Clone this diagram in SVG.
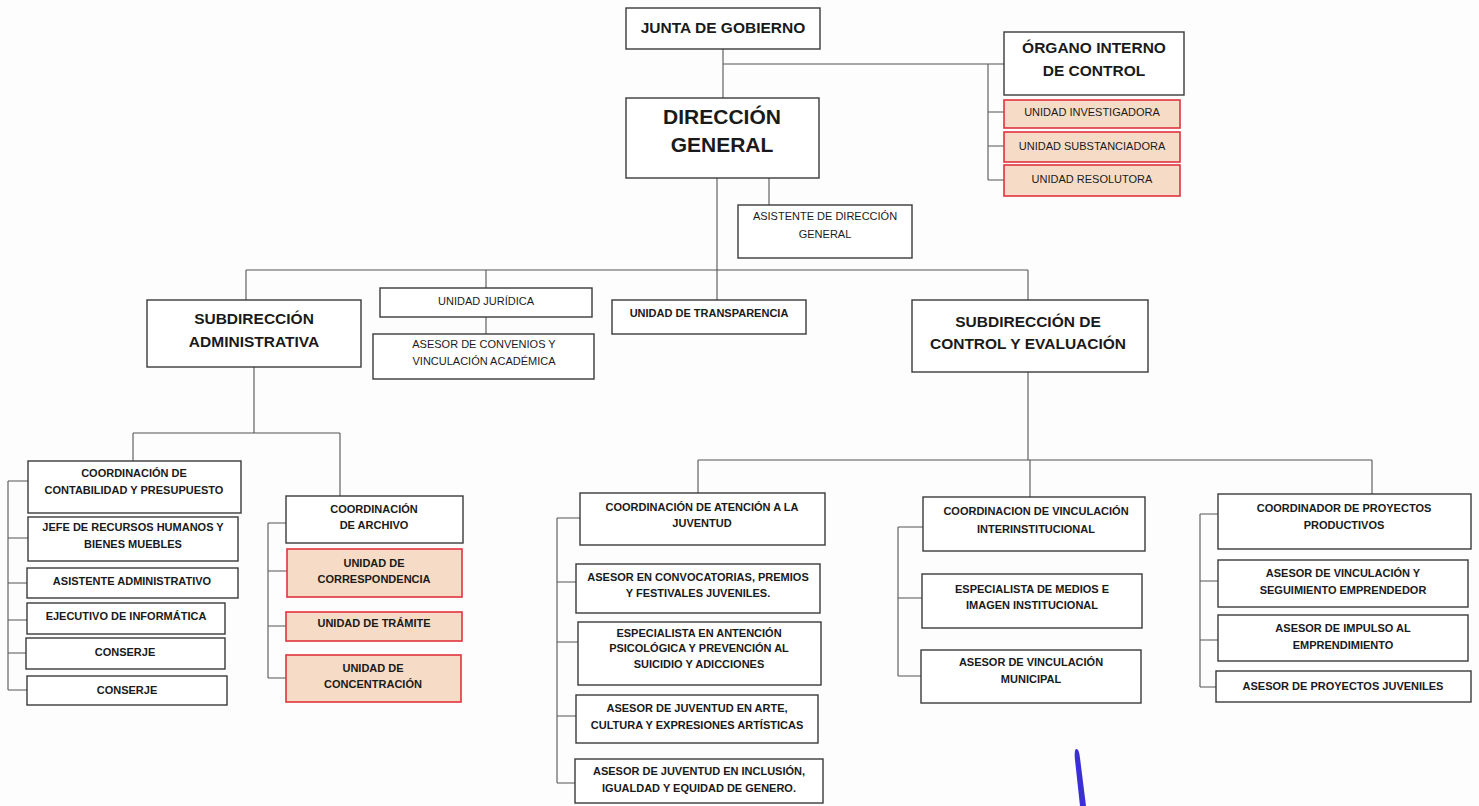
<svg xmlns="http://www.w3.org/2000/svg" width="1479" height="806" viewBox="0 0 1479 806">
<style>
.b{fill:#ffffff;stroke:#3a3a3a;stroke-width:1.4}
.p{fill:#f6dcc7;stroke:#e2323c;stroke-width:1.6}
.c{fill:none;stroke:#555;stroke-width:1.1}
text{font-family:"Liberation Sans Narrow","Liberation Sans",Arial,sans-serif;fill:#1a1a1a;text-anchor:middle;font-weight:bold}
.s11{font-size:11px}
.s12{font-size:12px}
.s15{font-size:15.5px}
.s21{font-size:21px}
.n{font-weight:normal}
</style>
<rect width="1479" height="806" fill="#fdfdfd"/>
<g id="connectors">
<path class="c" d="M723,49 V98 M723,64 H1004 M988,64 V180 M988,112 H1004 M988,146 H1004 M988,180 H1004"/>
<path class="c" d="M717,178 V300 M769,178 V205"/>
<path class="c" d="M246,270 H1028 M246,270 V300 M486,270 V288 M486,317 V334 M1028,270 V300"/>
<path class="c" d="M254,367 V433 M133,433 H340 M133,433 V461 M340,433 V496"/>
<path class="c" d="M8,481 V690 M8,481 H28 M8,538 H28 M8,583 H27 M8,620 H27 M8,653 H26 M8,690 H27"/>
<path class="c" d="M268,523 V678 M268,523 H286 M268,571 H287 M268,626 H286 M268,678 H286"/>
<path class="c" d="M1028,372 V460 M698,460 H1372 M698,460 V493 M1030,460 V497 M1372,460 V494"/>
<path class="c" d="M557,518 V783 M557,518 H580 M557,582 H576 M557,642 H578 M557,716 H576 M557,783 H575"/>
<path class="c" d="M898,527 V676 M898,527 H923 M898,598 H922 M898,676 H921"/>
<path class="c" d="M1200,514 V687 M1200,514 H1218 M1200,581 H1218 M1200,640 H1218 M1200,687 H1216"/>
</g>
<g id="junta"><rect class="b" x="626" y="8" width="194" height="41"/><text class="s15" x="723" y="33">JUNTA DE GOBIERNO</text></g>
<g id="organo"><rect class="b" x="1004" y="32" width="180" height="63"/><text class="s15" x="1094" y="53">ÓRGANO INTERNO</text><text class="s15" x="1094" y="76">DE CONTROL</text></g>
<g id="investigadora"><rect class="p" x="1004" y="100" width="176" height="28"/><text class="s11 n" x="1092" y="116">UNIDAD INVESTIGADORA</text></g>
<g id="substanciadora"><rect class="p" x="1004" y="132" width="176" height="30"/><text class="s11 n" x="1092" y="150">UNIDAD SUBSTANCIADORA</text></g>
<g id="resolutora"><rect class="p" x="1004" y="165" width="176" height="31"/><text class="s11 n" x="1092" y="183">UNIDAD RESOLUTORA</text></g>
<g id="direccion"><rect class="b" x="626" y="98" width="193" height="80"/><text class="s21" x="722" y="124">DIRECCIÓN</text><text class="s21" x="722" y="152">GENERAL</text></g>
<g id="asistente-dg"><rect class="b" x="738" y="205" width="174" height="53"/><text class="s11 n" x="825" y="220">ASISTENTE DE DIRECCIÓN</text><text class="s11 n" x="825" y="238">GENERAL</text></g>
<g id="sub-admin"><rect class="b" x="147" y="300" width="214" height="67"/><text class="s15" x="254" y="324">SUBDIRECCIÓN</text><text class="s15" x="254" y="347">ADMINISTRATIVA</text></g>
<g id="juridica"><rect class="b" x="380" y="288" width="212" height="29"/><text class="s11 n" x="486" y="305">UNIDAD JURÍDICA</text></g>
<g id="convenios"><rect class="b" x="373" y="334" width="221" height="45"/><text class="s11 n" x="484" y="348">ASESOR DE CONVENIOS Y</text><text class="s11 n" x="484" y="365">VINCULACIÓN ACADÉMICA</text></g>
<g id="transparencia"><rect class="b" x="612" y="300" width="194" height="34"/><text class="s11" x="709" y="317">UNIDAD DE TRANSPARENCIA</text></g>
<g id="sub-control"><rect class="b" x="912" y="300" width="236" height="72"/><text class="s15" x="1028" y="327">SUBDIRECCIÓN DE</text><text class="s15" x="1028" y="349">CONTROL Y EVALUACIÓN</text></g>
<g id="contabilidad"><rect class="b" x="28" y="461" width="213" height="52"/><text class="s11" x="134" y="477">COORDINACIÓN DE</text><text class="s11" x="134" y="494">CONTABILIDAD Y PRESUPUESTO</text></g>
<g id="rrhh"><rect class="b" x="28" y="517" width="210" height="44"/><text class="s11" x="133" y="531">JEFE DE RECURSOS HUMANOS Y</text><text class="s11" x="133" y="548">BIENES MUEBLES</text></g>
<g id="asistente-admin"><rect class="b" x="27" y="568" width="211" height="30"/><text class="s11" x="132" y="585">ASISTENTE ADMINISTRATIVO</text></g>
<g id="informatica"><rect class="b" x="27" y="603" width="198" height="31"/><text class="s11" x="126" y="620">EJECUTIVO DE INFORMÁTICA</text></g>
<g id="conserje1"><rect class="b" x="26" y="638" width="199" height="31"/><text class="s11" x="125" y="656">CONSERJE</text></g>
<g id="conserje2"><rect class="b" x="27" y="676" width="200" height="29"/><text class="s11" x="127" y="694">CONSERJE</text></g>
<g id="archivo"><rect class="b" x="286" y="496" width="177" height="47"/><text class="s11" x="374" y="513">COORDINACIÓN</text><text class="s11" x="374" y="529">DE ARCHIVO</text></g>
<g id="correspondencia"><rect class="p" x="287" y="549" width="175" height="48"/><text class="s11" x="374" y="567">UNIDAD DE</text><text class="s11" x="374" y="583">CORRESPONDENCIA</text></g>
<g id="tramite"><rect class="p" x="286" y="612" width="176" height="29"/><text class="s11" x="374" y="627">UNIDAD DE TRÁMITE</text></g>
<g id="concentracion"><rect class="p" x="286" y="655" width="175" height="47"/><text class="s11" x="373" y="672">UNIDAD DE</text><text class="s11" x="373" y="688">CONCENTRACIÓN</text></g>
<g id="atencion"><rect class="b" x="580" y="493" width="245" height="52"/><text class="s11" x="702" y="511">COORDINACIÓN DE ATENCIÓN A LA</text><text class="s11" x="702" y="527">JUVENTUD</text></g>
<g id="convocatorias"><rect class="b" x="576" y="564" width="244" height="49"/><text class="s11" x="698" y="581">ASESOR EN CONVOCATORIAS, PREMIOS</text><text class="s11" x="698" y="597">Y FESTIVALES JUVENILES.</text></g>
<g id="psicologica"><rect class="b" x="578" y="622" width="243" height="63"/><text class="s11" x="699" y="637">ESPECIALISTA EN ANTENCIÓN</text><text class="s11" x="699" y="652">PSICOLÓGICA Y PREVENCIÓN AL</text><text class="s11" x="699" y="668">SUICIDIO Y ADICCIONES</text></g>
<g id="arte"><rect class="b" x="576" y="695" width="242" height="48"/><text class="s11" x="697" y="712">ASESOR DE JUVENTUD EN ARTE,</text><text class="s11" x="697" y="729">CULTURA Y EXPRESIONES ARTÍSTICAS</text></g>
<g id="inclusion"><rect class="b" x="575" y="759" width="248" height="44"/><text class="s11" x="699" y="775">ASESOR DE JUVENTUD EN INCLUSIÓN,</text><text class="s11" x="699" y="792">IGUALDAD Y EQUIDAD DE GENERO.</text></g>
<g id="vinculacion"><rect class="b" x="923" y="497" width="222" height="54"/><text class="s11" x="1036" y="515">COORDINACION DE VINCULACIÓN</text><text class="s11" x="1036" y="533">INTERINSTITUCIONAL</text></g>
<g id="medios"><rect class="b" x="922" y="574" width="220" height="54"/><text class="s11" x="1032" y="593">ESPECIALISTA DE MEDIOS E</text><text class="s11" x="1032" y="609">IMAGEN INSTITUCIONAL</text></g>
<g id="municipal"><rect class="b" x="921" y="650" width="220" height="53"/><text class="s11" x="1031" y="666">ASESOR DE VINCULACIÓN</text><text class="s11" x="1031" y="683">MUNICIPAL</text></g>
<g id="productivos"><rect class="b" x="1218" y="494" width="253" height="55"/><text class="s11" x="1344" y="512">COORDINADOR DE PROYECTOS</text><text class="s11" x="1344" y="529">PRODUCTIVOS</text></g>
<g id="seguimiento"><rect class="b" x="1218" y="560" width="250" height="47"/><text class="s11" x="1343" y="577">ASESOR DE VINCULACIÓN Y</text><text class="s11" x="1343" y="594">SEGUIMIENTO EMPRENDEDOR</text></g>
<g id="impulso"><rect class="b" x="1218" y="615" width="250" height="46"/><text class="s11" x="1343" y="632">ASESOR DE IMPULSO AL</text><text class="s11" x="1343" y="649">EMPRENDIMIENTO</text></g>
<g id="juveniles"><rect class="b" x="1216" y="671" width="255" height="31"/><text class="s11" x="1343" y="690">ASESOR DE PROYECTOS JUVENILES</text></g>
<path d="M1076,749 Q1079,748 1080,758 L1086,806 L1080,806 L1075,760 Q1074,751 1076,749 Z" fill="#3b2fd6"/>
</svg>
